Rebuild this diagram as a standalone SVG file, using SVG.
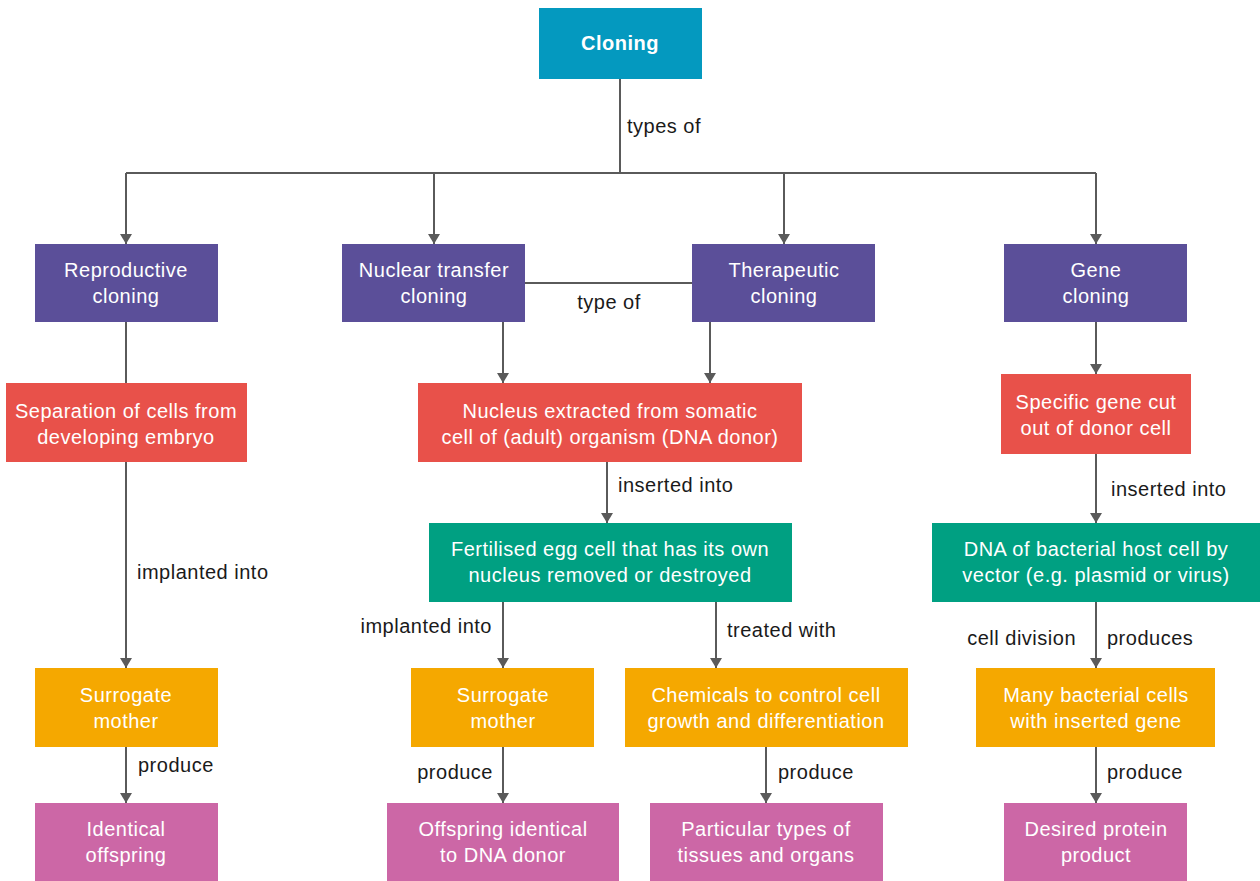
<svg xmlns="http://www.w3.org/2000/svg" width="1260" height="881" viewBox="0 0 1260 881">
<style>
.n text{font-family:"Liberation Sans",Arial,sans-serif;font-size:20px;letter-spacing:0.5px;fill:#fff;text-anchor:middle}
.lbl{font-family:"Liberation Sans",Arial,sans-serif;font-size:20px;letter-spacing:0.5px;fill:#1a1a1a}
.c path{fill:none;stroke:#5a5a5a;stroke-width:2}
.top{fill:#0499bf}.pur{fill:#5b4f99}.red{fill:#e8514a}.grn{fill:#00a082}.org{fill:#f5a800}.pnk{fill:#cc67a6}
</style>
<defs>
<marker id="ah" viewBox="0 0 10 12" refX="10" refY="6" markerWidth="10" markerHeight="12" markerUnits="userSpaceOnUse" orient="auto">
<path d="M0,0 L10,6 L0,12 Z" fill="#5a5a5a"/>
</marker>
</defs>
<rect width="1260" height="881" fill="#fff"/>
<g class="c">
<path d="M620,79 V173"/>
<path d="M126,173 H1096"/>
<path d="M126,173 V244" marker-end="url(#ah)"/>
<path d="M434,173 V244" marker-end="url(#ah)"/>
<path d="M784,173 V244" marker-end="url(#ah)"/>
<path d="M1096,173 V244" marker-end="url(#ah)"/>
<path d="M525,283 H692"/>
<path d="M126,322 V383"/>
<path d="M503,322 V383" marker-end="url(#ah)"/>
<path d="M710,322 V383" marker-end="url(#ah)"/>
<path d="M1096,322 V374" marker-end="url(#ah)"/>
<path d="M126,462 V668" marker-end="url(#ah)"/>
<path d="M607,462 V523" marker-end="url(#ah)"/>
<path d="M1096,454 V523" marker-end="url(#ah)"/>
<path d="M503,602 V668" marker-end="url(#ah)"/>
<path d="M716,602 V668" marker-end="url(#ah)"/>
<path d="M1096,602 V668" marker-end="url(#ah)"/>
<path d="M126,747 V803" marker-end="url(#ah)"/>
<path d="M503,747 V803" marker-end="url(#ah)"/>
<path d="M766,747 V803" marker-end="url(#ah)"/>
<path d="M1096,747 V803" marker-end="url(#ah)"/>
</g>
<g class="labels">
<text class="lbl" x="627" y="133">types of</text>
<text class="lbl" x="609" y="309" text-anchor="middle">type of</text>
<text class="lbl" x="618" y="492">inserted into</text>
<text class="lbl" x="1111" y="496">inserted into</text>
<text class="lbl" x="137" y="579">implanted into</text>
<text class="lbl" x="492" y="633" text-anchor="end">implanted into</text>
<text class="lbl" x="727" y="637">treated with</text>
<text class="lbl" x="1076" y="645" text-anchor="end">cell division</text>
<text class="lbl" x="1107" y="645">produces</text>
<text class="lbl" x="138" y="772">produce</text>
<text class="lbl" x="493" y="779" text-anchor="end">produce</text>
<text class="lbl" x="778" y="779">produce</text>
<text class="lbl" x="1107" y="779">produce</text>
</g>
<g id="cloning" class="n"><rect class="top" x="539" y="8" width="163" height="71"/><text x="620" y="50" font-weight="bold">Cloning</text></g>
<g id="reproductive" class="n"><rect class="pur" x="35" y="244" width="183" height="78"/><text x="126" y="277">Reproductive</text><text x="126" y="303">cloning</text></g>
<g id="nuclear" class="n"><rect class="pur" x="342" y="244" width="183" height="78"/><text x="434" y="277">Nuclear transfer</text><text x="434" y="303">cloning</text></g>
<g id="therapeutic" class="n"><rect class="pur" x="692" y="244" width="183" height="78"/><text x="784" y="277">Therapeutic</text><text x="784" y="303">cloning</text></g>
<g id="gene" class="n"><rect class="pur" x="1004" y="244" width="183" height="78"/><text x="1096" y="277">Gene</text><text x="1096" y="303">cloning</text></g>
<g id="separation" class="n"><rect class="red" x="6" y="383" width="241" height="79"/><text x="126" y="418">Separation of cells from</text><text x="126" y="444">developing embryo</text></g>
<g id="nucleus" class="n"><rect class="red" x="418" y="383" width="384" height="79"/><text x="610" y="418">Nucleus extracted from somatic</text><text x="610" y="444">cell of (adult) organism (DNA donor)</text></g>
<g id="specific" class="n"><rect class="red" x="1001" y="374" width="190" height="80"/><text x="1096" y="409">Specific gene cut</text><text x="1096" y="435">out of donor cell</text></g>
<g id="fertilised" class="n"><rect class="grn" x="429" y="523" width="363" height="79"/><text x="610" y="556">Fertilised egg cell that has its own</text><text x="610" y="582">nucleus removed or destroyed</text></g>
<g id="dnahost" class="n"><rect class="grn" x="932" y="523" width="328" height="79"/><text x="1096" y="556">DNA of bacterial host cell by</text><text x="1096" y="582">vector (e.g. plasmid or virus)</text></g>
<g id="surrogate1" class="n"><rect class="org" x="35" y="668" width="183" height="79"/><text x="126" y="702">Surrogate</text><text x="126" y="728">mother</text></g>
<g id="surrogate2" class="n"><rect class="org" x="411" y="668" width="183" height="79"/><text x="503" y="702">Surrogate</text><text x="503" y="728">mother</text></g>
<g id="chemicals" class="n"><rect class="org" x="625" y="668" width="283" height="79"/><text x="766" y="702">Chemicals to control cell</text><text x="766" y="728">growth and differentiation</text></g>
<g id="manybact" class="n"><rect class="org" x="976" y="668" width="239" height="79"/><text x="1096" y="702">Many bacterial cells</text><text x="1096" y="728">with inserted gene</text></g>
<g id="identical" class="n"><rect class="pnk" x="35" y="803" width="183" height="78"/><text x="126" y="836">Identical</text><text x="126" y="862">offspring</text></g>
<g id="offspring" class="n"><rect class="pnk" x="387" y="803" width="232" height="78"/><text x="503" y="836">Offspring identical</text><text x="503" y="862">to DNA donor</text></g>
<g id="particular" class="n"><rect class="pnk" x="650" y="803" width="233" height="78"/><text x="766" y="836">Particular types of</text><text x="766" y="862">tissues and organs</text></g>
<g id="protein" class="n"><rect class="pnk" x="1004" y="803" width="183" height="78"/><text x="1096" y="836">Desired protein</text><text x="1096" y="862">product</text></g>
</svg>
